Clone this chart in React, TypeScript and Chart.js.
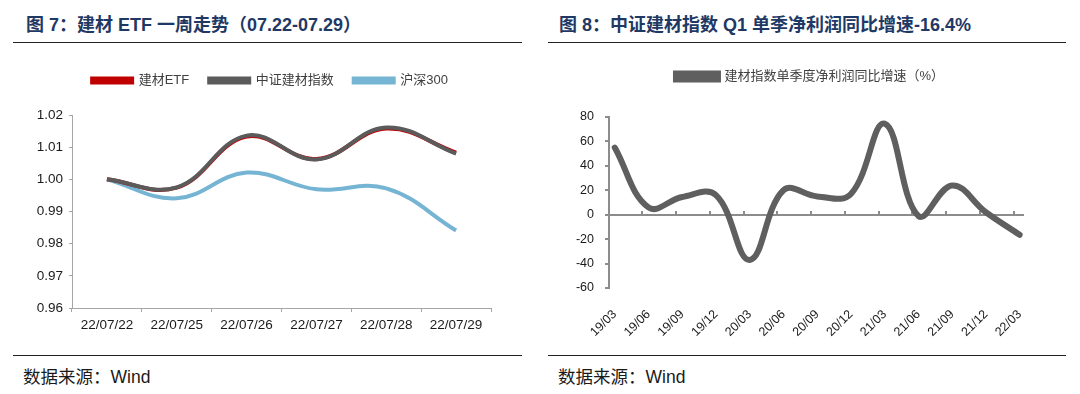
import React, { useEffect, useRef } from 'react';
import { Chart, registerables } from 'chart.js';

Chart.register(...registerables);

// ---------- Data: left chart ----------
const weekLabels = ['22/07/22', '22/07/25', '22/07/26', '22/07/27', '22/07/28', '22/07/29'];
const etfValues = [1.0, 0.9974, 1.0133, 1.0063, 1.0158, 1.0083];
const indexValues = [1.0, 0.9975, 1.0136, 1.0062, 1.0161, 1.008];
const hs300Values = [1.0, 0.9941, 1.0021, 0.9969, 0.9972, 0.9841];
const leftSeriesNames = ['建材ETF', '中证建材指数', '沪深300'];

// ---------- Data: right chart ----------
const quarterLabels = ['19/03', '19/06', '19/09', '19/12', '20/03', '20/06', '20/09', '20/12', '21/03', '21/06', '21/09', '21/12', '22/03'];
const profitGrowth = [55, 6, 14.5, 16, -37, 20, 15, 17, 74.5, -1, 24, 2, -16.4];
const rightSeriesName = '建材指数单季度净利润同比增速（%）';

const TICK_FONT = "'Liberation Sans', Arial, sans-serif";
const CJK_FONT = "'Liberation Sans', Arial, 'Noto Sans CJK SC', sans-serif";

// fixes the legend box height and shifts it horizontally
const legendTweak = (h: number, dx: number) => ({
  id: 'legendTweak',
  beforeInit(chart: any) {
    const lg = chart.legend;
    if (!lg) return;
    const orig = lg.fit;
    lg.fit = function () {
      orig.call(this);
      this.height = h;
    };
  },
  afterLayout(chart: any) {
    const lg = chart.legend;
    if (!lg) return;
    lg.left += dx;
    lg.right += dx;
  },
});

function LeftChart() {
  const ref = useRef<HTMLCanvasElement | null>(null);
  useEffect(() => {
    const axisColor = '#a6a6a6';
    const chart = new Chart(ref.current as HTMLCanvasElement, {
      type: 'line',
      data: {
        labels: weekLabels,
        datasets: [
          { label: leftSeriesNames[0], data: etfValues, borderColor: '#c00000', backgroundColor: '#c00000', borderWidth: 4, pointRadius: 0, tension: 0.4, order: 1 },
          { label: leftSeriesNames[1], data: indexValues, borderColor: '#5b5b5b', backgroundColor: '#5b5b5b', borderWidth: 4, pointRadius: 0, tension: 0.4, order: 0 },
          { label: leftSeriesNames[2], data: hs300Values, borderColor: '#75b5d3', backgroundColor: '#75b5d3', borderWidth: 4, pointRadius: 0, tension: 0.4, order: 2 },
        ],
      },
      options: {
        responsive: false,
        animation: false,
        layout: { padding: { left: 0, right: 39, top: 6, bottom: 0 } },
        plugins: {
          tooltip: { enabled: false },
          legend: {
            position: 'top',
            labels: {
              boxWidth: 40,
              boxHeight: 4,
              padding: 20,
              color: '#404040',
              font: { size: 13, family: CJK_FONT },
              sort: (a: any, b: any) => a.datasetIndex - b.datasetIndex,
            },
          },
        },
        scales: {
          x: {
            offset: true,
            grid: { display: true, drawOnChartArea: false, offset: true, tickLength: 4, color: axisColor },
            border: { color: axisColor, width: 1 },
            ticks: { color: '#1a1a1a', font: { size: 13.5, family: TICK_FONT }, padding: 5, maxRotation: 0 },
            afterFit: (s: any) => { s.height = 40; },
          },
          y: {
            min: 0.96,
            max: 1.02,
            grid: { drawOnChartArea: false, tickLength: 3, color: axisColor },
            border: { color: axisColor, width: 1 },
            ticks: {
              stepSize: 0.01,
              color: '#1a1a1a',
              font: { size: 13.5, family: TICK_FONT },
              padding: 6,
              callback: (v: any) => Number(v).toFixed(2),
            },
            afterFit: (s: any) => { s.width = 72; },
          },
        },
      } as any,
      plugins: [legendTweak(61, 24.5)],
    });
    return () => chart.destroy();
  }, []);
  return <canvas ref={ref} width={530} height={300} style={{ position: 'absolute', left: 0, top: 48, width: 530, height: 300 }} />;
}

function RightChart() {
  const ref = useRef<HTMLCanvasElement | null>(null);
  useEffect(() => {
    const axisColor = '#8c8c8c';
    const xMin = -0.17;
    const xMax = 12.1;
    const chart = new Chart(ref.current as HTMLCanvasElement, {
      type: 'line',
      data: {
        datasets: [
          {
            label: rightSeriesName,
            data: profitGrowth.map((v, i) => ({ x: i, y: v })),
            borderColor: '#5f5f5f',
            backgroundColor: '#5f5f5f',
            borderWidth: 6,
            pointRadius: 0,
            tension: 0.4,
            borderCapStyle: 'round',
            xAxisID: 'x',
          },
        ],
      },
      options: {
        responsive: false,
        animation: false,
        layout: { padding: { left: 0, right: 57, top: 12, bottom: 0 } },
        plugins: {
          tooltip: { enabled: false },
          legend: {
            position: 'top',
            labels: {
              boxWidth: 42,
              boxHeight: 6,
              padding: 10,
              color: '#404040',
              font: { size: 13, family: CJK_FONT },
            },
          },
        },
        scales: {
          x: {
            type: 'linear',
            min: xMin,
            max: xMax,
            grid: { display: false },
            border: { display: false },
            ticks: {
              stepSize: 1,
              includeBounds: false,
              autoSkip: false,
              maxRotation: 45,
              minRotation: 45,
              padding: 11,
              color: '#1a1a1a',
              font: { size: 12.5, family: TICK_FONT },
              callback: (v: any) => quarterLabels[Math.round(v)] ?? '',
            },
            afterFit: (s: any) => { s.height = 60; },
          },
          x2: {
            type: 'linear',
            position: { y: 0 },
            min: xMin + 0.18,
            max: xMax + 0.18,
            grid: { drawOnChartArea: false, tickLength: -5, color: axisColor, lineWidth: 2 },
            border: { color: axisColor, width: 2 },
            ticks: { display: false, stepSize: 1, includeBounds: false },
            afterFit: (s: any) => { s.height = 0; },
          },
          y: {
            min: -60,
            max: 80,
            grid: { drawOnChartArea: false, tickLength: 4, color: axisColor, lineWidth: 2 },
            border: { color: axisColor, width: 2 },
            ticks: { stepSize: 20, color: '#1a1a1a', font: { size: 12.5, family: TICK_FONT }, padding: 11 },
            afterFit: (s: any) => { s.width = 69; },
          },
        },
      } as any,
      plugins: [legendTweak(57, 28.5)],
    });
    return () => chart.destroy();
  }, []);
  return <canvas ref={ref} width={540} height={300} style={{ position: 'absolute', left: 540, top: 48, width: 540, height: 300 }} />;
}

const titleStyle: React.CSSProperties = {
  position: 'absolute',
  top: 15,
  fontFamily: CJK_FONT,
  fontWeight: 'bold',
  fontSize: 18,
  lineHeight: '20px',
  color: '#1f3864',
  whiteSpace: 'nowrap',
};

const footStyle: React.CSSProperties = {
  position: 'absolute',
  top: 367,
  fontFamily: CJK_FONT,
  fontSize: 17.5,
  lineHeight: '20px',
  color: '#1a1a1a',
  whiteSpace: 'nowrap',
};

const rule = (left: number, top: number, width: number): React.CSSProperties => ({
  position: 'absolute',
  left,
  top,
  width,
  height: 1,
  background: '#222',
});

export default function App() {
  return (
    <div style={{ position: 'fixed', left: 0, top: 0, width: 1080, height: 394, background: '#fff', overflow: 'hidden' }}>
      <div style={{ ...titleStyle, left: 26 }}>图 7：建材 ETF 一周走势（07.22-07.29）</div>
      <div style={{ ...titleStyle, left: 559 }}>图 8：中证建材指数 Q1 单季净利润同比增速-16.4%</div>
      <div style={rule(13, 42, 509)} />
      <div style={rule(548, 42, 518)} />
      <LeftChart />
      <RightChart />
      <div style={rule(13, 355, 509)} />
      <div style={rule(548, 355, 518)} />
      <div style={{ ...footStyle, left: 23 }}>数据来源：Wind</div>
      <div style={{ ...footStyle, left: 558 }}>数据来源：Wind</div>
    </div>
  );
}
